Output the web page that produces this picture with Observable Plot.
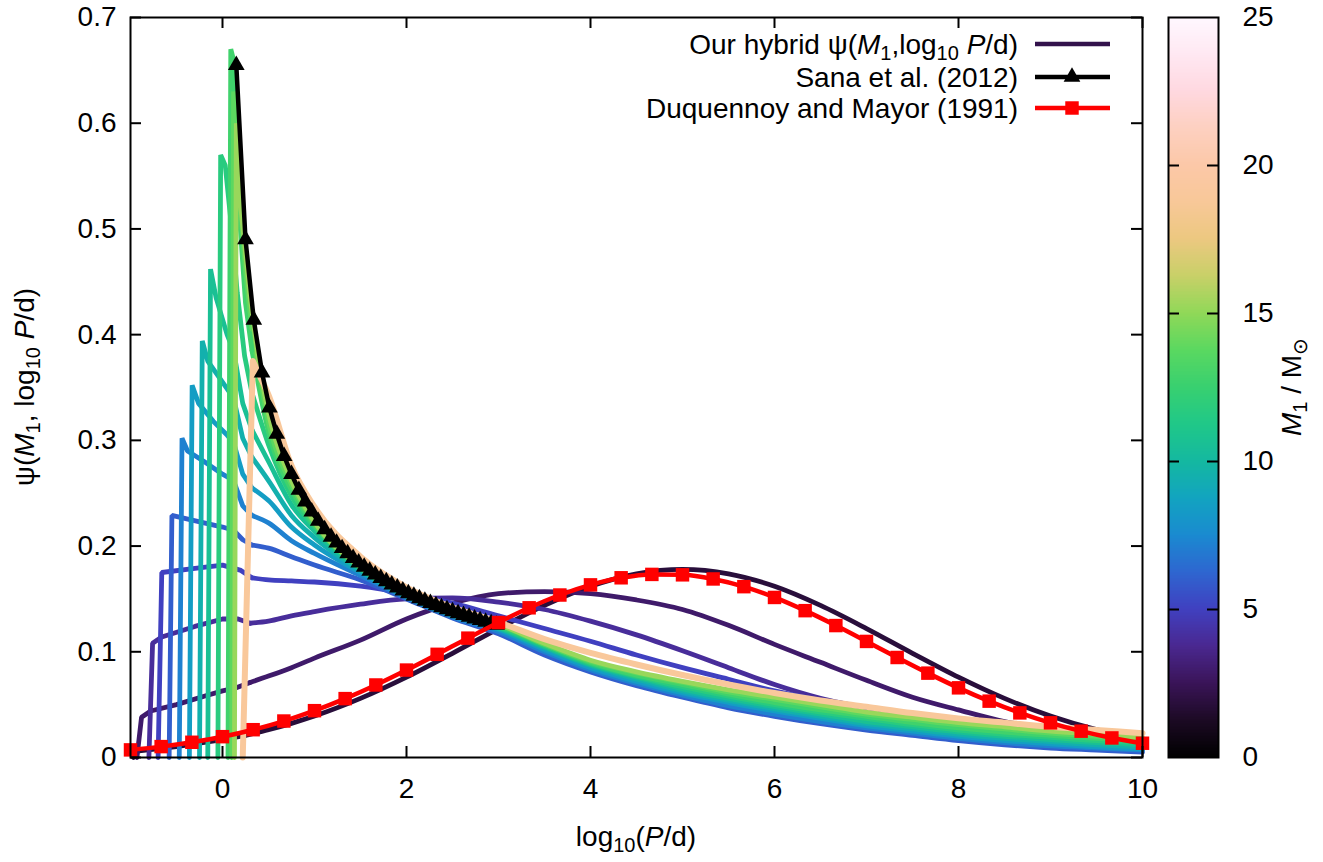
<!DOCTYPE html>
<html><head><meta charset="utf-8">
<script src="https://cdn.jsdelivr.net/npm/d3@7"></script>
<script src="https://cdn.jsdelivr.net/npm/@observablehq/plot@0.6"></script>
<style>
html,body{margin:0;padding:0;background:#fff;}
#wrap{position:relative;width:1323px;height:862px;overflow:hidden;background:#fff;}
#wrap > svg{position:absolute;top:0;}
</style></head><body><div id="wrap"></div>
<script>
// ---------- data ----------
const xTicks = [0, 2, 4, 6, 8, 10];
const yTicks = [0, 0.1, 0.2, 0.3, 0.4, 0.5, 0.6, 0.7];
const cbTicks = [5, 10, 15, 20];
const cbLabels = [0, 5, 10, 15, 20, 25];

// colour palette of the M1 colour bar (M1 / Msun -> colour)
const cmapStops  = [0, 1.25, 2.5, 3.75, 5, 6.25, 7.5, 8.75, 10, 11.25, 12.5, 13.75, 15, 16.25, 17.5, 18.75, 20, 21.25, 22.5, 23.75, 25];
const cmapColors = ["#000000", "#1c0a24", "#3a1458", "#4a2890", "#4040c0", "#2e66d0", "#1a8ad0", "#12a4c0", "#14b8a0", "#20c888", "#38d070", "#5ad860", "#90d858", "#c8d068", "#ecc880", "#f8c898", "#fcc8a8", "#fdd0c0", "#ffd8e0", "#ffe8f2", "#fff8ff"];

// hybrid psi(M1, log10 P/d) curves, one per primary mass
const masses = [1.8, 2.9, 4.0, 5.0, 6.0, 7.2, 8.4, 9.5, 10.6, 11.7, 12.8, 13.8, 15.2, 19.0];
// short-period part of each curve: [log10 P, psi]
const heads = [
  [[-0.97,0],[-0.93,0.006],[-0.5,0.0102],[0,0.0168],[0.25,0.021]],
  [[-0.93,0],[-0.88,0.038],[-0.78,0.044],[-0.5,0.050],[-0.2,0.058],[0,0.063],[0.15,0.066],[0.3,0.071]],
  [[-0.80,0],[-0.76,0.108],[-0.66,0.114],[-0.3,0.124],[0,0.131],[0.17,0.131],[0.3,0.127]],
  [[-0.70,0],[-0.66,0.175],[-0.3,0.179],[0,0.182],[0.2,0.177],[0.32,0.170]],
  [[-0.58,0],[-0.55,0.229],[-0.4,0.226],[-0.2,0.222],[0,0.218],[0.12,0.215],[0.22,0.206],[0.32,0.201]],
  [[-0.47,0],[-0.44,0.302],[-0.38,0.29],[-0.2,0.28],[0,0.268],[0.12,0.262],[0.22,0.238],[0.32,0.229]],
  [[-0.36,0],[-0.33,0.352],[-0.26,0.335],[-0.1,0.318],[0.05,0.305],[0.12,0.298],[0.22,0.268],[0.32,0.255]],
  [[-0.25,0],[-0.22,0.394],[-0.16,0.375],[0,0.355],[0.12,0.34],[0.22,0.302],[0.32,0.284]],
  [[-0.16,0],[-0.13,0.462],[-0.07,0.435],[0.05,0.40],[0.12,0.385],[0.22,0.335],[0.32,0.31]],
  [[-0.05,0],[-0.02,0.57],[0.03,0.56],[0.1,0.50],[0.16,0.44],[0.24,0.38],[0.32,0.345]],
  [[0.06,0],[0.09,0.67],[0.12,0.66],[0.17,0.53],[0.25,0.43],[0.32,0.385]],
  [[0.10,0],[0.12,0.63],[0.17,0.55],[0.25,0.46],[0.32,0.405]],
  [[0.13,0],[0.15,0.60],[0.2,0.52],[0.3,0.435],[0.4,0.37]],
  [[0.22,0],[0.33,0.375],[0.4,0.362]]
];
// long-period part of each curve, sampled at tailX
const tailX = [0.5, 0.75, 1, 1.5, 2, 2.5, 3, 3.5, 4, 4.5, 5, 5.5, 6, 6.5, 7, 7.5, 8, 8.5, 9, 9.5, 10];
const tails = [
  [.0263,.0323,.0392,.0559,.076,.0986,.122,.1439,.162,.1738,.178,.1738,.162,.1439,.122,.0986,.076,.0559,.0392,.0263,.0168],
  [.077,.085,.094,.111,.131,.146,.155,.157,.155,.149,.140,.125,.107,.090,.073,.057,.045,.034,.027,.021,.016],
  [.129,.134,.138,.145,.150,.151,.147,.140,.129,.116,.101,.085,.069,.056,.047,.040,.034,.028,.022,.017,.012],
  [.168,.167,.166,.162,.155,.146,.134,.122,.110,.097,.085,.074,.063,.054,.045,.038,.031,.025,.019,.014,.010],
  [.198,.190,.182,.168,.150,.132,.117,.097,.081,.068,.057,.047,.039,.032,.026,.021,.016,.012,.009,.007,.005],
  [.222,.205,.193,.172,.151,.133,.119,.100,.083,.070,.059,.049,.041,.034,.028,.023,.018,.014,.011,.009,.007],
  [.243,.218,.201,.175,.152,.134,.121,.102,.085,.072,.061,.052,.044,.037,.030,.025,.020,.016,.013,.010,.008],
  [.262,.229,.208,.177,.153,.135,.122,.104,.087,.074,.063,.054,.046,.039,.032,.027,.022,.018,.015,.012,.010],
  [.280,.239,.214,.178,.153,.136,.123,.105,.088,.076,.065,.056,.048,.041,.034,.029,.024,.020,.017,.014,.012],
  [.296,.247,.218,.179,.154,.137,.124,.106,.089,.077,.067,.058,.050,.043,.037,.031,.026,.022,.019,.016,.014],
  [.308,.253,.220,.180,.154,.138,.125,.107,.090,.078,.069,.060,.052,.045,.039,.033,.028,.024,.021,.018,.016],
  [.317,.258,.222,.180,.155,.138,.126,.107,.091,.080,.071,.062,.055,.048,.041,.036,.031,.027,.023,.020,.017],
  [.326,.262,.223,.180,.155,.139,.126,.108,.092,.081,.072,.064,.057,.050,.043,.038,.033,.029,.025,.022,.019],
  [.343,.276,.237,.190,.161,.142,.128,.112,.099,.088,.078,.069,.061,.054,.048,.042,.037,.033,.029,.026,.023]
];

// Sana et al. (2012)
const sanaX = [0.15,0.25,0.34,0.43,0.51,0.59,0.67,0.75,0.83,0.90,0.97,1.04,1.11,1.18,1.24,1.30,1.36,1.42,1.48,1.54,1.60,1.66,1.72,1.78,1.84,1.90,1.96,2.02,2.08,2.14,2.20,2.26,2.32,2.38,2.44,2.50,2.56,2.62,2.68,2.74,2.80,2.86,2.92,2.98];
const sanaY = [0.655,0.49,0.414,0.364,0.331,0.306,0.285,0.268,0.253,0.242,0.2325,0.2237,0.2158,0.2087,0.2031,0.1979,0.1930,0.1885,0.1843,0.1803,0.1765,0.1730,0.1696,0.1665,0.1635,0.1606,0.1579,0.1553,0.1528,0.1504,0.1482,0.1460,0.1439,0.1419,0.1400,0.1381,0.1363,0.1346,0.1329,0.1313,0.1298,0.1283,0.1268,0.1254];

// Duquennoy and Mayor (1991)
const dmX = [-1,-0.667,-0.333,0,0.333,0.667,1,1.333,1.667,2,2.333,2.667,3,3.333,3.667,4,4.333,4.667,5,5.333,5.667,6,6.333,6.667,7,7.333,7.667,8,8.333,8.667,9,9.333,9.667,10];
const dmY = [.0072,.0103,.0144,.0197,.0263,.0345,.0443,.0557,.0686,.0827,.0976,.1129,.1277,.1416,.1537,.1633,.1700,.1732,.1728,.1689,.1616,.1514,.1389,.1248,.1098,.0946,.0798,.0659,.0533,.0422,.0328,.0249,.0185,.0135];

// ---------- tables built from the arrays ----------
const headRows = masses.flatMap((m, i) => heads[i].map(([x, y]) => ({x, y, m})));
const tailRows = masses.flatMap((m, i) => {
  const last = heads[i][heads[i].length - 1];
  return [{x: last[0], y: last[1], m}, ...tailX.map((x, j) => ({x, y: tails[i][j], m}))];
});
const topMass = masses[masses.length - 1];
const sanaRows = sanaX.map((x, i) => ({x, y: sanaY[i]}));
const dmRows = dmX.map((x, i) => ({x, y: dmY[i]}));

const FONT = "'Liberation Sans', Arial, Helvetica, sans-serif";
const colorScale = {type: "linear", domain: cmapStops, range: cmapColors};

// ---------- main chart ----------
const W = 1160, H = 862, ML = 130, MR = 18, MT = 17, MB = 105;
const PW = W - ML - MR, PH = H - MT - MB;
const TL = 11;
const lowHead = headRows.filter(d => d.m < topMass), lowTail = tailRows.filter(d => d.m < topMass);
const hiHead = headRows.filter(d => d.m === topMass), hiTail = tailRows.filter(d => d.m === topMass);
const main = Plot.plot({
  width: W, height: H,
  marginLeft: ML, marginRight: MR, marginTop: MT, marginBottom: MB,
  style: {fontFamily: FONT, fontSize: "28px", color: "black", background: "transparent", overflow: "visible"},
  x: {domain: [-1, 10], label: null},
  y: {domain: [0, 0.7], label: null},
  color: colorScale,
  marks: [
    Plot.axisX({ticks: xTicks, tickSize: 0, tickPadding: 21, label: null, tickFormat: d => String(d)}),
    Plot.axisY({ticks: yTicks, tickSize: 0, tickPadding: 14, label: null, tickFormat: d => String(d)}),
    Plot.line(lowTail, {x: "x", y: "y", z: "m", stroke: "m", strokeWidth: 4.8, curve: "monotone-x"}),
    Plot.line(lowHead, {x: "x", y: "y", z: "m", stroke: "m", strokeWidth: 4.8, strokeLinejoin: "miter", curve: "linear"}),
    Plot.line(hiTail, {x: "x", y: "y", z: "m", stroke: "m", strokeWidth: 6, curve: "monotone-x"}),
    Plot.line(hiHead, {x: "x", y: "y", z: "m", stroke: "m", strokeWidth: 6, curve: "linear"}),
    Plot.line(sanaRows, {x: "x", y: "y", stroke: "black", strokeWidth: 4.5}),
    Plot.dot(sanaRows, {x: "x", y: "y", symbol: "triangle", r: 6.2, fill: "black"}),
    Plot.line(dmRows, {x: "x", y: "y", stroke: "#ff0000", strokeWidth: 4.5, curve: "monotone-x"}),
    Plot.dot(dmRows, {x: "x", y: "y", symbol: "square", r: 7.6, fill: "#ff0000"}),
    Plot.tickX(xTicks, {x: d => d, insetTop: PH - TL, strokeWidth: 2, stroke: "black"}),
    Plot.tickX(xTicks, {x: d => d, insetBottom: PH - TL, strokeWidth: 2, stroke: "black"}),
    Plot.tickY(yTicks, {y: d => d, insetRight: PW - TL, strokeWidth: 2, stroke: "black"}),
    Plot.tickY(yTicks, {y: d => d, insetLeft: PW - TL, strokeWidth: 2, stroke: "black"}),
    Plot.frame({stroke: "black", strokeWidth: 2})
  ]
});
main.style.left = "0px";
document.getElementById("wrap").appendChild(main);

function rich(textSel, parts) {
  let down = false;
  for (const [s, kind] of parts) {
    const t = textSel.append("tspan").text(s);
    if (kind === "i") t.attr("font-style", "italic");
    if (kind === "sub") {
      t.attr("font-size", 20);
      if (!down) { t.attr("dy", 6); down = true; }
    } else if (down) {
      t.attr("dy", -6); down = false;
    }
  }
  return textSel;
}

const svg = d3.select(main);
const hybridLegendColor = main.scale("color").apply(2.2);

// axis titles
rich(svg.append("text").attr("font-family", FONT).attr("font-size", 28).attr("text-anchor", "middle")
  .attr("transform", `translate(${ML + PW / 2},846)`),
  [["log", ""], ["10", "sub"], ["(", ""], ["P", "i"], ["/d)", ""]]);
rich(svg.append("text").attr("font-family", FONT).attr("font-size", 28).attr("text-anchor", "middle")
  .attr("transform", `translate(34,${MT + PH / 2}) rotate(-90)`),
  [["ψ(", ""], ["M", "i"], ["1", "sub"], [", log", ""], ["10", "sub"], [" ", ""], ["P", "i"], ["/d)", ""]]);

// legend
const legRows = [
  {y: 44, parts: [["Our hybrid ψ(", ""], ["M", "i"], ["1", "sub"], [",log", ""], ["10", "sub"], [" ", ""], ["P", "i"], ["/d)", ""]], color: hybridLegendColor, sym: null},
  {y: 77, parts: [["Sana et al. (2012)", ""]], color: "black", sym: d3.symbolTriangle},
  {y: 108, parts: [["Duquennoy and Mayor (1991)", ""]], color: "#ff0000", sym: d3.symbolSquare}
];
const leg = svg.append("g");
for (const r of legRows) {
  rich(leg.append("text").attr("font-family", FONT).attr("font-size", 28).attr("text-anchor", "end")
    .attr("transform", `translate(1018,${r.y + 10})`), r.parts);
  leg.append("line").attr("x1", 1035).attr("x2", 1110).attr("y1", r.y).attr("y2", r.y)
    .attr("stroke", r.color).attr("stroke-width", 4.5);
  if (r.sym) {
    const rr = r.sym === d3.symbolSquare ? 7.6 : 6.2;
    leg.append("path").attr("d", d3.symbol(r.sym, Math.PI * rr * rr)())
      .attr("transform", `translate(1072,${r.y})`).attr("fill", r.color);
  }
}

// ---------- colour bar ----------
const cbSteps = d3.range(0, 25, 0.05);
const CBW = 173, CBL = 18, CBR = 105;
const cb = Plot.plot({
  width: CBW, height: H,
  marginLeft: CBL, marginRight: CBR, marginTop: MT, marginBottom: MB,
  style: {fontFamily: FONT, fontSize: "28px", color: "black", background: "transparent", overflow: "visible"},
  y: {domain: [0, 25], label: null},
  color: colorScale,
  marks: [
    Plot.rect(cbSteps, {y1: d => d, y2: d => d + 0.07, fill: d => d + 0.025, shapeRendering: "crispEdges"}),
    Plot.tickY(cbTicks, {y: d => d, insetRight: CBW - CBL - CBR - TL, strokeWidth: 2, stroke: "black"}),
    Plot.tickY(cbTicks, {y: d => d, insetLeft: CBW - CBL - CBR - TL, strokeWidth: 2, stroke: "black"}),
    Plot.frame({stroke: "black", strokeWidth: 2}),
    Plot.axisY({anchor: "right", ticks: cbLabels, tickSize: 0, tickPadding: 24, label: null, tickFormat: d => String(d)})
  ]
});
cb.style.left = "1150px";
document.getElementById("wrap").appendChild(cb);
rich(d3.select(cb).append("text").attr("font-family", FONT).attr("font-size", 28).attr("text-anchor", "middle")
  .attr("transform", `translate(151,${MT + PH / 2}) rotate(-90)`),
  [["M", "i"], ["1", "sub"], [" / M", ""], ["⊙", "sub"]]);
</script></body></html>
